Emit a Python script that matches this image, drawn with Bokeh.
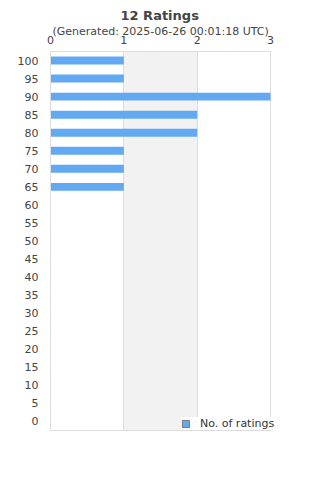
from bokeh.plotting import figure
from bokeh.models import (BoxAnnotation, Title, Legend, LegendItem, ColumnDataSource,
                          FixedTicker, Range1d, LinearAxis)
from bokeh.embed import file_html
from bokeh.resources import INLINE

ratings = ["0", "5", "10", "15", "20", "25", "30", "35", "40", "45", "50",
           "55", "60", "65", "70", "75", "80", "85", "90", "95", "100"]
counts = [0, 0, 0, 0, 0, 0, 0, 0, 0, 0, 0,
          0, 0, 1, 1, 1, 2, 2, 3, 1, 1]
x_ticks = [0, 1, 2, 3]
title_text = "12 Ratings"
subtitle_text = "(Generated: 2025-06-26 00:01:18 UTC)"
series_name = "No. of ratings"

BLUE = "#62a9f1"
TXT = "#444444"
GRID = "#dddddd"
FONT = "DejaVu Sans"

# the chart box spans 0..3 over 220 px; the frame is 15 px wider on the right
# so that the legend can overhang the box like in the reference
x_max = x_ticks[-1]
box_px, frame_px = 220, 235
x_end = x_max * frame_px / box_px

p = figure(width=320, height=480, y_range=ratings, x_range=Range1d(0, x_end),
           x_axis_location="above", output_backend="svg", toolbar_location=None,
           min_border_left=50, min_border_right=320 - 50 - frame_px, min_border_top=0,
           min_border_bottom=50, title=None)
p.background_fill_color = "white"
p.border_fill_color = "white"
p.outline_line_color = None
# an off-screen range for the legend swatch proxy
p.extra_x_ranges = {"offscreen": Range1d(100, 101)}

band = BoxAnnotation(left=1, right=2, fill_color="#f2f2f2", fill_alpha=1,
                     line_color=None, level="image")
p.add_layout(band)

src = ColumnDataSource(dict(y=ratings, right=counts))
p.hbar(y="y", right="right", left=0, height=0.44, source=src,
       fill_color=BLUE, line_color=None)

# legend swatch proxy: same data, drawn outside the visible frame
leg_r = p.hbar(y="y", right="right", left=0, height=0.44, source=src,
               x_range_name="offscreen", fill_color=BLUE, line_color="#777777")

p.xaxis.ticker = FixedTicker(ticks=x_ticks)
p.xaxis.bounds = (0, x_max)
bottom_axis = LinearAxis(ticker=FixedTicker(ticks=[]), bounds=(0, x_max),
                         major_label_text_font_size="0px")
p.add_layout(bottom_axis, "below")
for ax in (p.xaxis[0], p.yaxis[0], bottom_axis):
    ax.axis_line_color = GRID
    ax.axis_line_width = 1
    ax.major_tick_line_color = None
    ax.minor_tick_line_color = None
    ax.major_tick_out = 0
    ax.major_tick_in = 0
    ax.minor_tick_out = 0
    ax.minor_tick_in = 0
for ax in (p.xaxis[0], p.yaxis[0]):
    ax.major_label_text_font_size = "11px"
    ax.major_label_text_color = TXT
    ax.major_label_text_font = FONT
p.xaxis[0].major_label_standoff = 8
p.yaxis.major_label_standoff = 12

p.xgrid.grid_line_color = GRID
p.xgrid.ticker = FixedTicker(ticks=x_ticks)
p.ygrid.grid_line_color = None

sub = Title(text=subtitle_text, align="left", text_font_size="11px",
            text_font_style="normal", text_color=TXT, text_font=FONT,
            standoff=-11, offset=2)
p.add_layout(sub, "above")
main = Title(text=title_text, align="left", text_font_size="13px",
             text_font_style="bold", text_color=TXT, text_font=FONT,
             standoff=11, offset=70)
p.add_layout(main, "above")

legend = Legend(items=[LegendItem(label=series_name, renderers=[leg_r])],
                location=(131, 0), background_fill_color="white",
                background_fill_alpha=1, border_line_color=None,
                label_text_font_size="11px", label_text_font=FONT,
                label_text_color="#333333", glyph_width=9, glyph_height=9,
                label_height=9, label_standoff=10, padding=3, margin=0)
p.add_layout(legend, "center")

open("out.html", "w").write(file_html(p, INLINE))
